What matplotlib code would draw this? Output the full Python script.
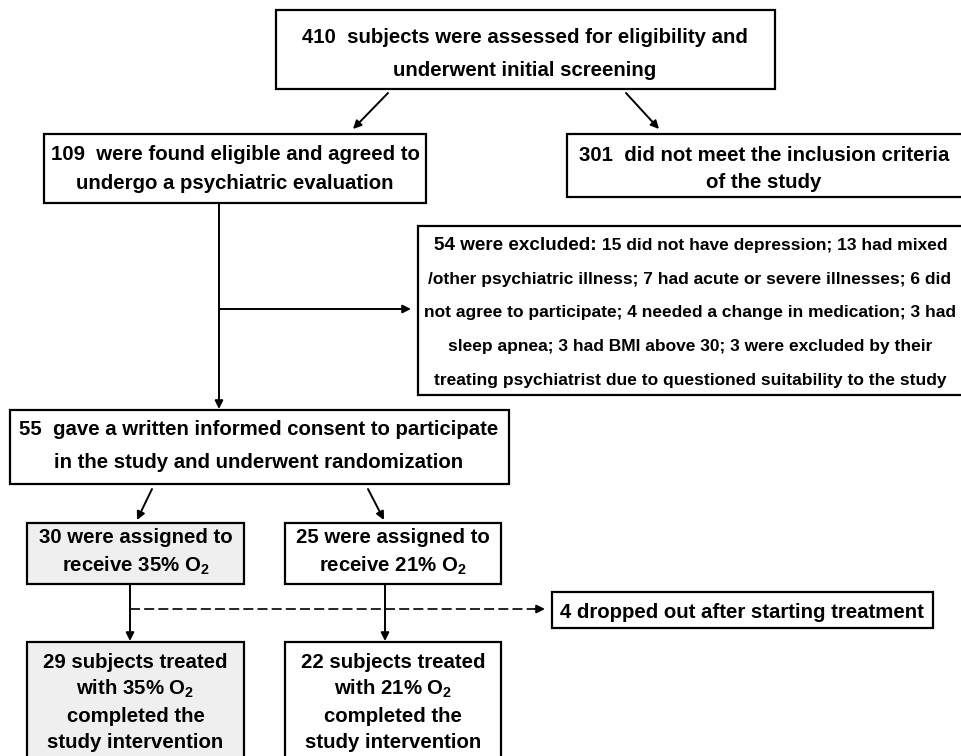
import matplotlib.pyplot as plt
from matplotlib.patches import Rectangle

plt.rcParams["font.family"] = ["Liberation Sans", "DejaVu Sans"]
plt.rcParams["font.weight"] = "bold"
plt.rcParams["mathtext.fontset"] = "custom"
plt.rcParams["mathtext.rm"] = "Liberation Sans:bold"
plt.rcParams["mathtext.it"] = "Liberation Sans:bold"
plt.rcParams["mathtext.bf"] = "Liberation Sans:bold"

# =====================================================
# Flow counts
# =====================================================

n_screened = 410
n_eligible = 109
n_not_eligible = 301
n_excluded = 54
n_consented = 55
o2_levels = [35, 21]
n_assigned = [30, 25]
n_completed = [29, 22]
n_dropped = 4

exclusion_lines = [
    "15 did not have depression; 13 had mixed",
    "/other psychiatric illness; 7 had acute or severe illnesses; 6 did",
    "not agree to participate; 4 needed a change in medication; 3 had",
    "sleep apnea; 3 had BMI above 30; 3 were excluded by their",
    "treating psychiatrist due to questioned suitability to the study",
]

# =====================================================
# Canvas (pixel coordinates, y down)
# =====================================================

fig = plt.figure(figsize=(9.62, 7.56), dpi=100)
ax = fig.add_axes([0, 0, 1, 1])
ax.set_xlim(0, 962)
ax.set_ylim(756, 0)
ax.axis("off")

MAIN = 14.7
SMALL = 12.5
HEAD = 13.6


def box(x0, y0, x1, y1, fill="white"):
    ax.add_patch(Rectangle((x0, y0), x1 - x0, y1 - y0,
                           facecolor=fill, edgecolor="black", lw=1.6))


def write(xc, baselines, texts, size=MAIN):
    for y, t in zip(baselines, texts):
        ax.text(xc, y, t, ha="center", va="baseline", fontsize=size)


def arrow(x0, y0, x1, y1):
    ax.annotate("", xy=(x1, y1), xytext=(x0, y0),
                arrowprops=dict(arrowstyle="-|>", lw=1.4, color="black",
                                shrinkA=0, shrinkB=0, mutation_scale=12))


# =====================================================
# Boxes
# =====================================================

box(276, 10, 775, 89)
write(525, [43, 76], [f"{n_screened}  subjects were assessed for eligibility and",
                      "underwent initial screening"])

box(44, 134, 426, 203)
write(235, [160, 189], [f"{n_eligible}  were found eligible and agreed to",
                        "undergo a psychiatric evaluation"])

box(567, 134, 966, 197)
write(764, [161, 188], [f"{n_not_eligible}  did not meet the inclusion criteria",
                        "of the study"])

box(418, 226, 966, 395)
write(690, [284, 317, 351, 385], exclusion_lines[1:], SMALL)
head = ax.text(0, 250, f"{n_excluded} were excluded:", ha="left",
               va="baseline", fontsize=HEAD)
rest = ax.text(0, 250, " " + exclusion_lines[0], ha="left", va="baseline",
               fontsize=SMALL)
fig.canvas.draw()
r = fig.canvas.get_renderer()
w_head = head.get_window_extent(r).width
w_rest = rest.get_window_extent(r).width
x_start = 691 - (w_head + w_rest) / 2
head.set_x(x_start)
rest.set_x(x_start + w_head)

box(10, 410, 509, 484)
write(259, [435, 468], [f"{n_consented}  gave a written informed consent to participate",
                        "in the study and underwent randomization"])

group_x = [(27, 244), (285, 501)]
fills = ["#efefef", "white"]
for (x0, x1), fill, n_a, n_c, o2 in zip(group_x, fills, n_assigned,
                                         n_completed, o2_levels):
    xc = (x0 + x1) / 2
    box(x0, 523, x1, 584, fill)
    write(xc, [543, 572], [f"{n_a} were assigned to",
                           f"receive {o2}% O$_2$"])
    box(x0, 642, x1, 770, fill)
    write(xc, [668, 695, 722, 748], [f"{n_c} subjects treated",
                                     f"with {o2}% O$_2$",
                                     "completed the",
                                     "study intervention"])

box(552, 592, 933, 628)
write(742, [618], [f"{n_dropped} dropped out after starting treatment"])

# =====================================================
# Arrows
# =====================================================

arrow(388, 93, 353, 129)
arrow(626, 93, 659, 129)

ax.plot([219, 219], [203, 400], color="black", lw=1.4)
arrow(219, 395, 219, 409)
arrow(219, 309, 411, 309)

arrow(152, 489, 137, 520)
arrow(368, 489, 384, 520)

arrow(130, 584, 130, 641)
arrow(385, 584, 385, 641)

ax.plot([130, 538], [609, 609], color="black", lw=1.2, dashes=(6, 2.5))
arrow(535, 609, 545, 609)

fig.savefig("out.png", dpi=100)
